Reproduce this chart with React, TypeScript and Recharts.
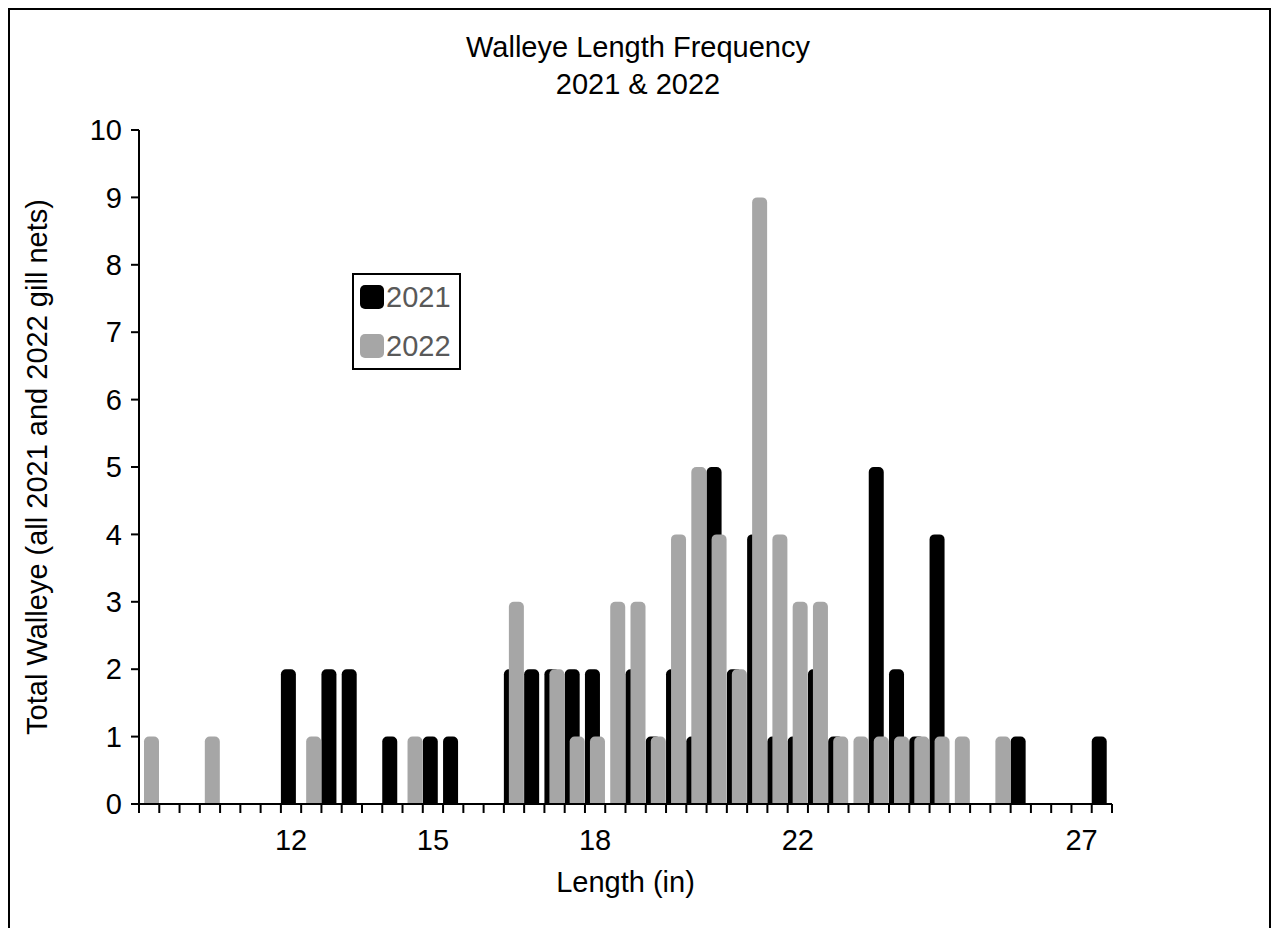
import { Bar, BarChart, Legend, XAxis, YAxis } from "recharts";

// length bins along the x axis; only a few carry a printed label
const binLabels = [
  "", "", "", "", "", "", "", "12", "", "", "", "", "", "", "15", "", "",
  "", "", "", "", "", "18", "", "", "", "", "", "", "", "", "", "22", "",
  "", "", "", "", "", "", "", "", "", "", "", "", "27", "",
];

const counts2021 = [
  0, 0, 0, 0, 0, 0, 0, 2, 0, 2, 2, 0, 1, 0, 1, 1, 0, 0, 2, 2, 2, 2, 2, 0,
  2, 1, 2, 1, 5, 2, 4, 1, 1, 2, 1, 0, 5, 2, 1, 4, 0, 0, 0, 1, 0, 0, 0, 1,
];

const counts2022 = [
  1, 0, 0, 1, 0, 0, 0, 0, 1, 0, 0, 0, 0, 1, 0, 0, 0, 0, 3, 0, 2, 1, 1, 3,
  3, 1, 4, 5, 4, 2, 9, 4, 3, 3, 1, 1, 1, 1, 1, 1, 1, 0, 1, 0, 0, 0, 0, 0,
];

const yTicks = [0, 1, 2, 3, 4, 5, 6, 7, 8, 9, 10];

const data = binLabels.map((label, i) => ({
  bin: i,
  label,
  y2021: counts2021[i],
  y2022: counts2022[i],
}));

const FONT = '"Liberation Sans", Arial, sans-serif';
const FS = 29;
const CHART_W = 1263;
const CHART_H = 912;
const MARGIN = { top: 122, right: 159, bottom: 21, left: 0 };
const Y_AXIS_W = 131;

function BinTick(props: any) {
  const { x, y, payload, index } = props;
  const plotW = CHART_W - MARGIN.left - MARGIN.right - Y_AXIS_W;
  const half = payload.offset ?? plotW / binLabels.length / 2;
  const label = binLabels[payload.value];
  return (
    <g>
      <line x1={x - half} x2={x - half} y1={y} y2={y + 9} stroke="#000" strokeWidth={2} />
      {index === binLabels.length - 1 && (
        <line x1={x + half} x2={x + half} y1={y} y2={y + 9} stroke="#000" strokeWidth={2} />
      )}
      {label && (
        <text x={x} y={y + 46} textAnchor="middle" fontSize={FS} fontFamily={FONT} fill="#000">
          {label}
        </text>
      )}
    </g>
  );
}

function YTitle(props: any) {
  const { viewBox } = props;
  const cx = viewBox.x + 29;
  const cy = viewBox.y + viewBox.height / 2;
  return (
    <text
      x={cx}
      y={cy}
      transform={`rotate(-90 ${cx} ${cy})`}
      textAnchor="middle"
      dominantBaseline="central"
      fontSize={FS}
      fontFamily={FONT}
      fill="#000"
    >
      Total Walleye (all 2021 and 2022 gill nets)
    </text>
  );
}

function LegendBox({ payload }: any) {
  return (
    <div
      style={{
        boxSizing: "border-box",
        width: 109,
        height: 97,
        border: "2px solid #000",
        background: "#fff",
        padding: "10px 0 0 6px",
        fontFamily: FONT,
      }}
    >
      {(payload || []).map((item: any, i: number) => (
        <div
          key={item.value}
          style={{ display: "flex", alignItems: "center", height: 24, marginTop: i === 0 ? 0 : 25 }}
        >
          <span style={{ width: 24, height: 24, borderRadius: 5, background: item.color, display: "inline-block" }} />
          <span style={{ fontSize: FS, color: "#595959", marginLeft: 2, lineHeight: "24px" }}>{item.value}</span>
        </div>
      ))}
    </div>
  );
}

export default function App() {
  return (
    <div style={{ position: "relative", width: CHART_W, height: 920, background: "#fff" }}>
      {/* chart frame; its bottom edge lies below the visible page */}
      <div
        style={{
          position: "absolute",
          left: 0,
          top: 0,
          width: CHART_W,
          height: 920,
          boxSizing: "border-box",
          borderTop: "2px solid #000",
          borderLeft: "2px solid #000",
          borderRight: "2px solid #000",
          pointerEvents: "none",
        }}
      />
      <div
        style={{
          position: "absolute",
          left: 0,
          top: 21,
          width: 1260,
          textAlign: "center",
          fontFamily: FONT,
          fontSize: FS,
          lineHeight: "37px",
          color: "#000",
        }}
      >
        Walleye Length Frequency
        <br />
        2021 &amp; 2022
      </div>
      <BarChart
        width={CHART_W}
        height={CHART_H}
        data={data}
        margin={MARGIN}
        barCategoryGap={0}
        barGap={-10}
        barSize={15}
      >
        <XAxis
          dataKey="bin"
          type="category"
          interval={0}
          height={95}
          tickSize={0}
          tickMargin={0}
          tickLine={false}
          axisLine={{ stroke: "#000", strokeWidth: 2 }}
          tick={<BinTick />}
          label={{
            value: "Length (in)",
            position: "insideBottom",
            offset: 7,
            fontSize: FS,
            fontFamily: FONT,
            fill: "#000",
          }}
        />
        <YAxis
          width={Y_AXIS_W}
          domain={[0, 10]}
          ticks={yTicks}
          interval={0}
          tickSize={8}
          tickMargin={9}
          axisLine={{ stroke: "#000", strokeWidth: 2 }}
          tickLine={{ stroke: "#000", strokeWidth: 2 }}
          tick={{ fill: "#000", fontSize: FS, fontFamily: FONT }}
          label={<YTitle />}
        />
        <Legend
          layout="vertical"
          align="center"
          verticalAlign="middle"
          content={<LegendBox />}
          wrapperStyle={{ left: 344, top: 265, width: 109, height: 97 }}
        />
        <Bar dataKey="y2021" name="2021" fill="#000000" radius={[5, 5, 0, 0]} isAnimationActive={false} />
        <Bar dataKey="y2022" name="2022" fill="#a6a6a6" radius={[5, 5, 0, 0]} isAnimationActive={false} />
      </BarChart>
    </div>
  );
}
